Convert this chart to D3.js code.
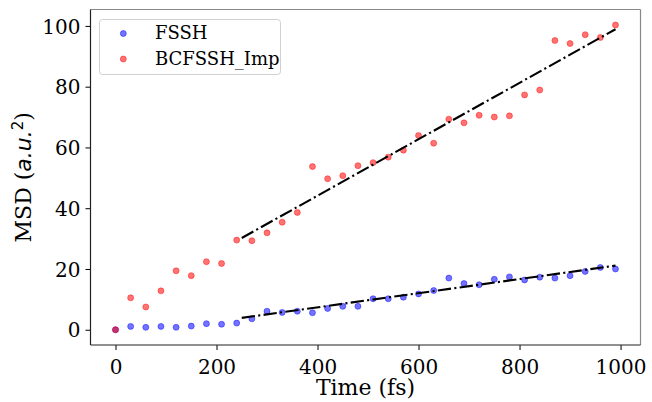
<!DOCTYPE html>
<html>
<head>
<meta charset="utf-8">
<script src="https://cdn.jsdelivr.net/npm/d3@7"></script>
<style>
  html, body { margin: 0; padding: 0; background: #fff; }
  svg text { font-family: "DejaVu Serif", serif; fill: #000; }
</style>
</head>
<body>
<svg id="chart" width="652" height="402"></svg>
<script>
// Time samples (fs)
const time = [0, 30, 60, 90, 120, 150, 180, 210, 240, 270, 300, 330, 360, 390, 420, 450, 480,
  510, 540, 570, 600, 630, 660, 690, 720, 750, 780, 810, 840, 870, 900, 930, 960, 990];

// Mean squared displacement (a.u.^2)
const fssh = [0, 1.1, 0.8, 1.1, 0.8, 1.2, 2.0, 1.8, 2.2, 3.6, 6.1, 5.7, 6.1, 5.6, 7.0, 7.7, 7.7,
  10.2, 10.2, 10.7, 11.8, 12.9, 17.0, 15.2, 14.8, 16.6, 17.4, 16.4, 17.3, 17.0, 17.8, 19.2, 20.5, 20.0];
const bcfssh = [0, 10.5, 7.5, 12.8, 19.4, 17.8, 22.4, 21.8, 29.5, 29.3, 31.9, 35.4, 38.6, 53.7, 49.7, 50.7, 54.0,
  55.0, 56.8, 59.1, 63.9, 61.4, 69.3, 68.1, 70.6, 70.0, 70.4, 77.3, 78.9, 95.2, 94.2, 97.1, 96.2, 100.3];

// Linear fits over the diffusive regime
const fitTime = [250, 990];
const fsshFit = [3.9, 21.1];
const bcfsshFit = [30.2, 98.9];

const xTicks = [0, 200, 400, 600, 800, 1000];
const yTicks = [0, 20, 40, 60, 80, 100];

const seriesNames = ["FSSH", "BCFSSH_Imp"];
const seriesColors = ["rgba(0,0,255,0.55)", "rgba(255,0,0,0.55)"];

const W = 652, H = 402;
const m = { left: 90.5, right: 640.5, top: 9.5, bottom: 345 };

const svg = d3.select("#chart");

const x = d3.scaleLinear().domain([-49.5, 1039.5]).range([m.left, m.right]);
const y = d3.scaleLinear().domain([-5.02, 105.4]).range([m.bottom, m.top]);

// Axes
const xAxis = d3.axisBottom(x).tickValues(xTicks).tickSize(5).tickPadding(5).tickFormat(d3.format("d"));
const yAxis = d3.axisLeft(y).tickValues(yTicks).tickSize(5).tickPadding(5).tickFormat(d3.format("d"));

const gx = svg.append("g").attr("transform", `translate(0,${m.bottom})`).call(xAxis);
const gy = svg.append("g").attr("transform", `translate(${m.left},0)`).call(yAxis);
[gx, gy].forEach(g => {
  g.select(".domain").remove();
  g.selectAll(".tick line").attr("stroke", "#000").attr("stroke-width", 1);
  g.selectAll(".tick text").style("font-family", "DejaVu Serif").style("font-size", "20px").attr("fill", "#000");
});
gx.selectAll(".tick text").attr("dy", "0.95em");
gy.selectAll(".tick text").attr("dy", "0.36em");

// Frame
svg.append("line").attr("x1", m.left).attr("x2", m.right).attr("y1", m.top).attr("y2", m.top)
  .attr("stroke", "#888").attr("stroke-width", 1.2);
svg.append("line").attr("x1", m.right).attr("x2", m.right).attr("y1", m.top).attr("y2", m.bottom)
  .attr("stroke", "#888").attr("stroke-width", 1.2);
svg.append("line").attr("x1", m.left).attr("x2", m.left).attr("y1", m.top).attr("y2", m.bottom)
  .attr("stroke", "#222").attr("stroke-width", 1.2);
svg.append("line").attr("x1", m.left).attr("x2", m.right).attr("y1", m.bottom).attr("y2", m.bottom)
  .attr("stroke", "#222").attr("stroke-width", 1.2);

// Scatter points
const plot = svg.append("g");
[fssh, bcfssh].forEach((vals, i) => {
  plot.append("g").selectAll("circle")
    .data(time.map((t, k) => [t, vals[k]]))
    .join("circle")
    .attr("cx", d => x(d[0]))
    .attr("cy", d => y(d[1]))
    .attr("r", 3)
    .attr("fill", seriesColors[i])
    .attr("stroke", seriesColors[i])
    .attr("stroke-width", 0.8);
});

// Fitted lines (dash-dot)
const line = d3.line().x(d => x(d[0])).y(d => y(d[1]));
[fsshFit, bcfsshFit].forEach(vals => {
  plot.append("path")
    .datum(fitTime.map((t, k) => [t, vals[k]]))
    .attr("d", line)
    .attr("fill", "none")
    .attr("stroke", "#000")
    .attr("stroke-width", 2.1)
    .attr("stroke-dasharray", "13.3,3.3,2.1,3.3");
});

// Axis labels
svg.append("text")
  .attr("x", (m.left + m.right) / 2).attr("y", 395)
  .attr("text-anchor", "middle")
  .style("font-size", "22px")
  .text("Time (fs)");

const yl = svg.append("text")
  .attr("transform", `translate(31,${(m.top + m.bottom) / 2}) rotate(-90)`)
  .attr("text-anchor", "middle")
  .style("font-size", "22px");
yl.append("tspan").text("MSD (");
yl.append("tspan").style("font-family", "DejaVu Sans").style("font-style", "italic").text("a.u.");
yl.append("tspan").style("font-family", "DejaVu Sans").style("font-size", "15px").attr("dy", "-8").text("2");
yl.append("tspan").attr("dy", "8").text(")");

// Legend
const lg = svg.append("g");
lg.append("rect")
  .attr("x", 99.5).attr("y", 19.5).attr("width", 181).attr("height", 55)
  .attr("rx", 3).attr("fill", "#fff").attr("fill-opacity", 0.8)
  .attr("stroke", "#d0d0d0").attr("stroke-width", 1);
seriesNames.forEach((name, i) => {
  const cy = 33.5 + i * 25.5;
  lg.append("circle").attr("cx", 123.3).attr("cy", cy).attr("r", 3)
    .attr("fill", seriesColors[i]).attr("stroke", seriesColors[i]).attr("stroke-width", 0.8);
  lg.append("text").attr("x", 155).attr("y", cy + 5.5)
    .style("font-size", "18px").text(name);
});
</script>
</body>
</html>
